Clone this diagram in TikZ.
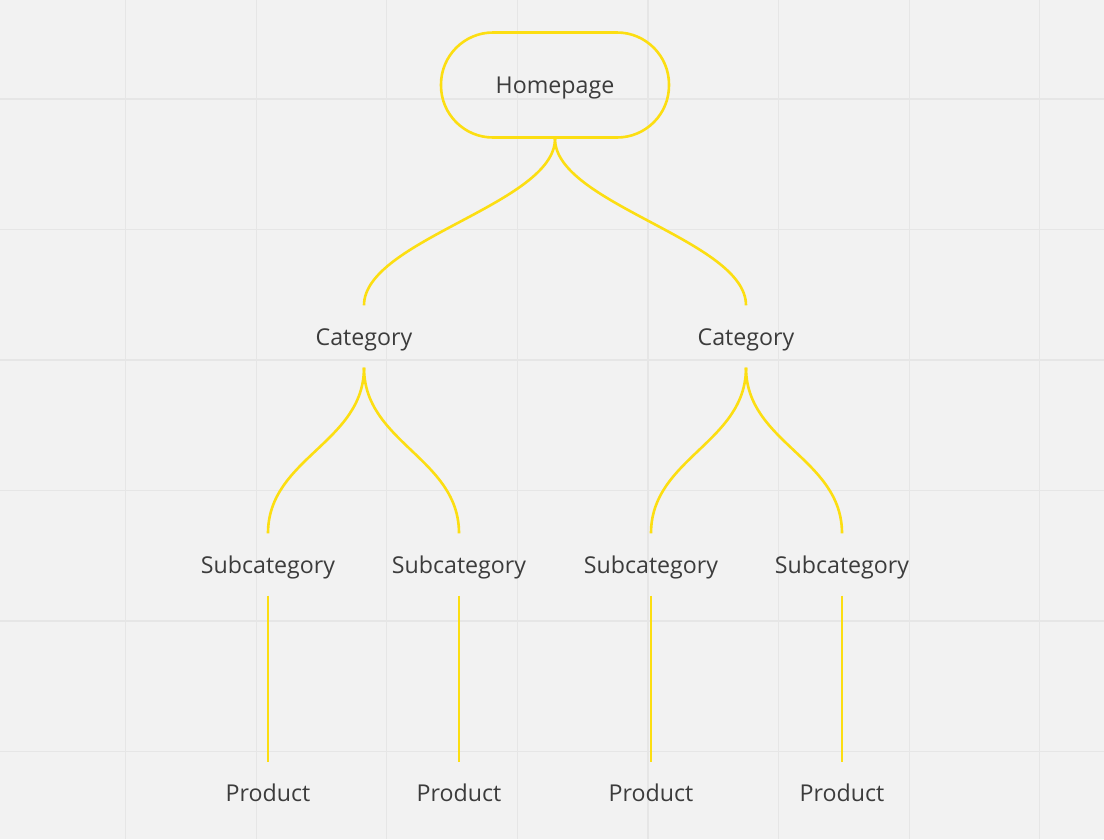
\documentclass[tikz,border=0pt]{standalone}
\usepackage{fontspec}
\setmainfont{Open Sans}
\definecolor{bg}{HTML}{F2F2F2}
\definecolor{gridc}{HTML}{E6E6E6}
\definecolor{ylw}{HTML}{FCDE12}
\definecolor{txt}{HTML}{3C3C3C}
\tikzset{
  lbl/.style={font=\fontsize{23.2}{27}\selectfont, text=txt, inner sep=0pt, text height=17pt, text depth=0pt, minimum height=62pt},
  home/.style={draw=ylw, line width=2.6pt, rounded corners=52pt, minimum width=228pt, minimum height=105pt, font=\fontsize{23.2}{27}\selectfont, text=txt, text height=17pt, text depth=0pt},
  conn/.style={draw=ylw, line width=2.6pt},
  gridline/.style={draw=gridc, line width=1.2pt}
}
\begin{document}
\begin{tikzpicture}[x=1pt,y=-1pt]
\fill[bg] (0,0) rectangle (1104,839);
\useasboundingbox (0,0) rectangle (1104,839);
\foreach \i in {0,...,7} { \draw[gridline] ({125.5+130.6*\i},0) -- ({125.5+130.6*\i},839); }
\foreach \j in {0,...,5} { \draw[gridline] (0,{99+130.5*\j}) -- (1104,{99+130.5*\j}); }

\node[home] (hp) at (555,85) {Homepage};
\node[lbl] (c1) at (364,336.5) {Category};
\node[lbl] (c2) at (746,336.5) {Category};
\node[lbl] (s1) at (268,564.5) {Subcategory};
\node[lbl] (s2) at (459,564.5) {Subcategory};
\node[lbl] (s3) at (651,564.5) {Subcategory};
\node[lbl] (s4) at (842,564.5) {Subcategory};
\node[lbl] (p1) at (268,793) {Product};
\node[lbl] (p2) at (459,793) {Product};
\node[lbl] (p3) at (651,793) {Product};
\node[lbl] (p4) at (842,793) {Product};

\draw[conn] (hp.south) .. controls +(0,65) and +(0,-65) .. (c1.north);
\draw[conn] (hp.south) .. controls +(0,65) and +(0,-65) .. (c2.north);
\foreach \c/\a/\b in {c1/s1/s2, c2/s3/s4} {
  \draw[conn] (\c.south) .. controls +(0,75) and +(0,-75) .. (\a.north);
  \draw[conn] (\c.south) .. controls +(0,75) and +(0,-75) .. (\b.north);
}
\foreach \s/\p in {s1/p1, s2/p2, s3/p3, s4/p4} {
  \draw[conn] (\s.south) -- (\p.north);
}
\end{tikzpicture}
\end{document}
